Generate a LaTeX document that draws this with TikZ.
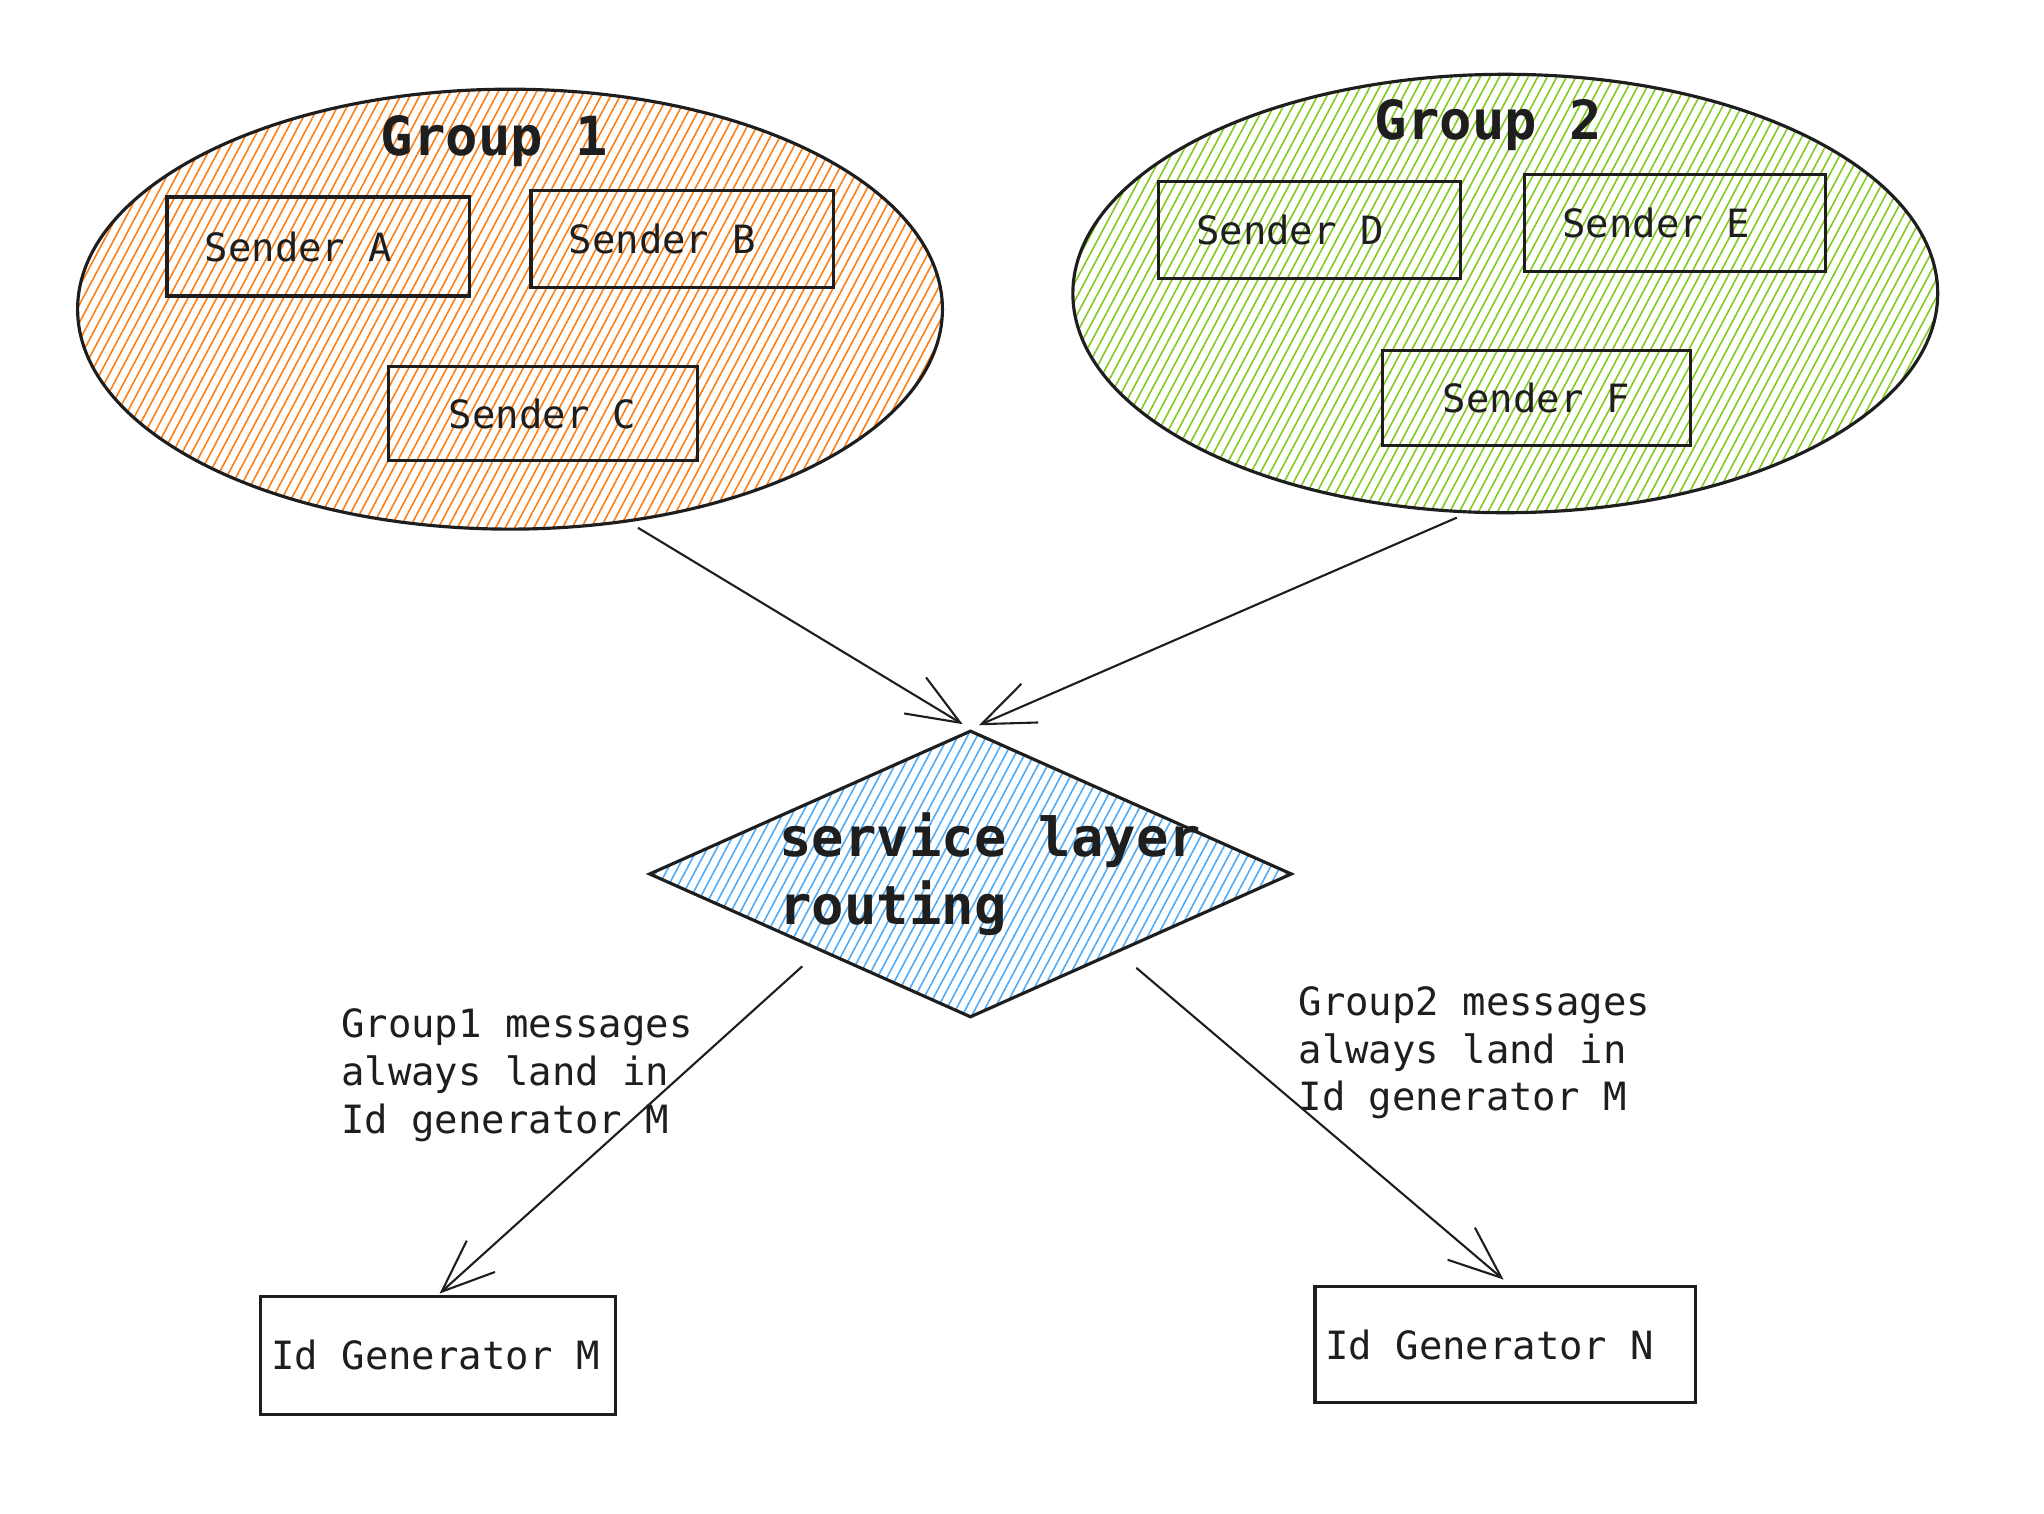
\documentclass[tikz,border=0pt]{standalone}
\usepackage{fontspec}
\setmonofont{DejaVu Sans Mono}
\usetikzlibrary{shapes.geometric, arrows.meta, patterns.meta}

\definecolor{inkline}{HTML}{1E1E1E}
\definecolor{hatchorange}{HTML}{FD7E14}
\definecolor{hatchgreen}{HTML}{82C91E}
\definecolor{hatchblue}{HTML}{4DABF7}

\begin{document}
\begin{tikzpicture}[
    x=0.013044cm, y=-0.013044cm,
    font=\ttfamily\fontsize{11.08}{13.55}\selectfont,
    group/.style={ellipse, draw=inkline, line width=0.9pt, minimum width=8.65cm,
                  minimum height=4.40cm, inner sep=0pt},
    hatch/.style={pattern={Lines[angle=62, distance=2.4pt, line width=0.45pt]}, pattern color=#1},
    title/.style={font=\ttfamily\bfseries\fontsize{15.33}{19.3}\selectfont, inner sep=0pt, text=inkline},
    sender/.style={rectangle, draw=inkline, line width=0.9pt, minimum height=0.97cm,
                   text width=2.27cm, inner xsep=0.378cm, align=flush left, text=inkline},
    sendermid/.style={rectangle, draw=inkline, line width=0.9pt, minimum height=0.945cm,
                      minimum width=3.09cm, align=center, text=inkline},
    idbox/.style={rectangle, draw=inkline, line width=0.9pt, minimum height=1.18cm,
                  inner xsep=0.104cm, align=flush left, text=inkline},
    note/.style={align=left, inner sep=0pt, text=inkline},
    arrow/.style={-{Straight Barb[length=15pt, width=12pt]}, draw=inkline, line width=0.6pt}
]

\useasboundingbox (0,0) rectangle (1567,1160.6);

% --- Grupos ---
\node[group, hatch=hatchorange] (g1) at (391,237) {};
\node[group, hatch=hatchgreen, minimum height=4.385cm] (g2) at (1154,225) {};
\node[title] (g1title) at (379,108) {Group 1};
\node[title] (g2title) at (1141,96) {Group 2};

% --- Senders ---
\node[sender, minimum height=0.99cm] (sa) at (244,189) {Sender A};
\node[sender] (sb) at (523,183) {Sender B};
\node[sendermid] (sc) at (416,317) {Sender C};
\node[sender] (sd) at (1004,176) {Sender D};
\node[sender, text width=2.25cm] (se) at (1284,171) {Sender E};
\node[sendermid, minimum width=3.08cm, minimum height=0.953cm] (sf) at (1178,305) {Sender F};

% --- Routing ---
\node[diamond, draw=inkline, line width=0.9pt, hatch=hatchblue, minimum width=6.43cm,
      minimum height=2.87cm, inner sep=0pt] (router) at (744,670) {};
\node[title, align=left, anchor=west] (routetxt) at (597,670) {service layer\\routing};

% --- Id generators ---
\node[idbox, text width=3.34cm] (idm) at (336,1039) {Id Generator M};
\node[idbox, text width=3.60cm, minimum height=1.16cm] (idn) at (1154,1031) {Id Generator N};

% --- Notas ---
\node[note, anchor=north west] (note1) at (261,773) {Group1 messages\\always land in\\Id generator M};
\node[note, anchor=north west] (note2) at (995,756) {Group2 messages\\always land in\\Id generator M};

% --- Flechas ---
\draw[arrow, shorten <=3.4pt, shorten >=2.6pt] (g1.-61.5) -- (router.north);
\draw[arrow, shorten <=3pt, shorten >=2.6pt] (g2.-100) -- (router.north);
\draw[arrow, shorten <=6.5pt, shorten >=0.5pt] (router.-153.8) -- (idm.north);
\draw[arrow, shorten <=6.7pt, shorten >=2.5pt] (router.-28.2) -- ([xshift=0.05cm]idn.north);

\end{tikzpicture}
\end{document}
